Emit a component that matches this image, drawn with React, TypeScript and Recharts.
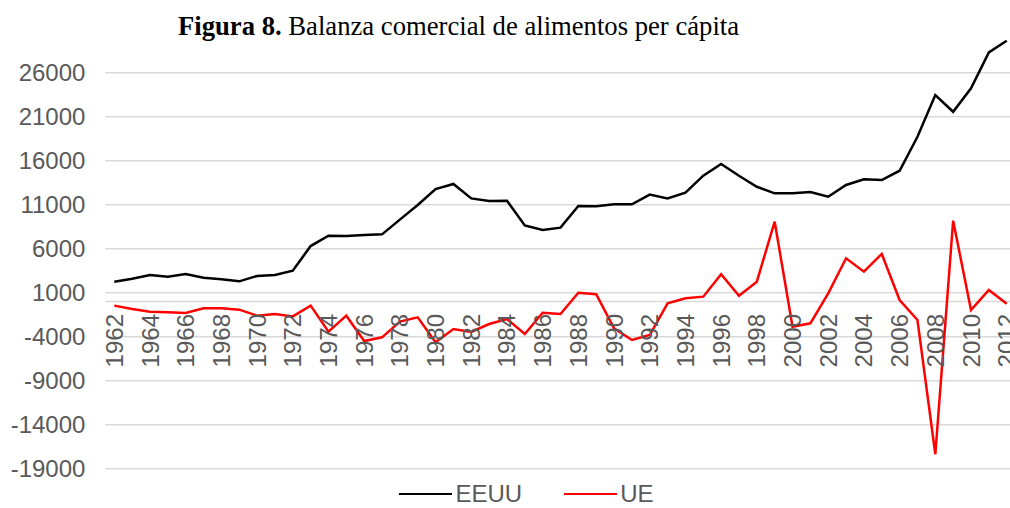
import React from 'react';
import { LineChart, Line, XAxis, YAxis, CartesianGrid, ReferenceLine, Legend } from 'recharts';

const YEARS = [
  '1962', '1963', '1964', '1965', '1966', '1967', '1968', '1969', '1970', '1971',
  '1972', '1973', '1974', '1975', '1976', '1977', '1978', '1979', '1980', '1981',
  '1982', '1983', '1984', '1985', '1986', '1987', '1988', '1989', '1990', '1991',
  '1992', '1993', '1994', '1995', '1996', '1997', '1998', '1999', '2000', '2001',
  '2002', '2003', '2004', '2005', '2006', '2007', '2008', '2009', '2010', '2011',
  '2012',
];

const EEUU = [
  2250, 2590, 3010, 2820, 3120, 2710, 2520, 2290, 2900, 3010,
  3500, 6300, 7480, 7440, 7550, 7630, 9300, 10960, 12780, 13360,
  11720, 11420, 11450, 8640, 8120, 8390, 10850, 10830, 11040, 11040,
  12150, 11700, 12360, 14300, 15620, 14290, 13040, 12290, 12290, 12440,
  11910, 13240, 13880, 13800, 14860, 18720, 23460, 21560, 24220, 28310,
  29630,
];

const UE = [
  -470, -850, -1160, -1230, -1310, -780, -780, -930, -1610, -1420,
  -1690, -470, -3430, -1610, -4490, -4070, -2290, -1800, -4640, -3120,
  -3460, -2560, -1990, -3690, -1270, -1420, 1000, 820, -3050, -4370,
  -3810, -210, 360, 550, 3090, 660, 2250, 9070, -2860, -2480,
  930, 4910, 3390, 5400, 170, -2100, -17360, 9180, -970, 1310,
  -250,
];

const Y_TICKS = [-19000, -14000, -9000, -4000, 1000, 6000, 11000, 16000, 21000, 26000];
const LABEL_YEARS = YEARS.filter((_, i) => i % 2 === 0);

const Y_MIN = -19000;
const Y_MAX = 31000;

const data = YEARS.map((year, i) => ({ year, EEUU: EEUU[i], UE: UE[i] }));

const W = 1010;
const H = 508;
const M_TOP = 28.7;
const X_AXIS_H = 1;
const M_BOTTOM = 39.3 - X_AXIS_H;
const PLOT_H = H - M_TOP - M_BOTTOM - X_AXIS_H;
const ZERO_FROM_BOTTOM = (PLOT_H * (0 - Y_MIN)) / (Y_MAX - Y_MIN);

const FONT = '"Liberation Sans", Arial, sans-serif';
const GRAY = '#595959';

function YearTick(props: any) {
  const { x, y, payload } = props;
  if (!payload || !LABEL_YEARS.includes(String(payload.value))) return <g />;
  const ty = y - ZERO_FROM_BOTTOM + 12.5;
  return (
    <text
      transform={`translate(${x},${ty}) rotate(-90)`}
      textAnchor="end"
      dy="0.355em"
      fill={GRAY}
      fontSize={24}
      fontFamily={FONT}
    >
      {payload.value}
    </text>
  );
}

function LegendContent(props: any) {
  const items = props.payload || [];
  return (
    <div
      style={{
        display: 'flex',
        justifyContent: 'center',
        alignItems: 'center',
        height: 18,
        width: W,
        paddingLeft: 43,
        boxSizing: 'border-box',
        fontFamily: FONT,
        fontSize: 24,
        lineHeight: '18px',
        color: GRAY,
      }}
    >
      {items.map((it: any, i: number) => (
        <div key={i} style={{ display: 'flex', alignItems: 'center', marginLeft: i === 0 ? 0 : 42, height: 18 }}>
          <div style={{ width: 53, height: 2.5, background: it.color, marginRight: 3 }} />
          <span style={{ lineHeight: '18px' }}>{it.value}</span>
        </div>
      ))}
    </div>
  );
}

export default function App() {
  return (
    <div style={{ position: 'absolute', left: 0, top: 0, width: W, height: H, background: '#fff' }}>
      <div
        style={{
          position: 'absolute',
          left: 178,
          top: 13.4,
          fontFamily: '"Liberation Serif", "Times New Roman", serif',
          fontSize: 26.67,
          lineHeight: 1,
          color: '#000',
          whiteSpace: 'nowrap',
          zIndex: 2,
        }}
      >
        <b>Figura 8.</b> Balanza comercial de alimentos per cápita
      </div>
      <LineChart width={W} height={H} data={data} margin={{ top: M_TOP, right: 0, bottom: M_BOTTOM, left: 0 }}>
        <CartesianGrid vertical={false} horizontalValues={Y_TICKS} stroke="#d9d9d9" strokeWidth={1.5} />
        <XAxis
          dataKey="year"
          height={X_AXIS_H}
          axisLine={false}
          tickLine={false}
          tickSize={0}
          tickMargin={0}
          interval={0}
          padding={{ left: 8.9, right: 3.3 }}
          tick={<YearTick />}
        />
        <YAxis
          width={105.4}
          domain={[Y_MIN, Y_MAX]}
          ticks={Y_TICKS}
          axisLine={false}
          tickLine={false}
          tickSize={0}
          tickMargin={20}
          allowDataOverflow
          tick={{ fill: GRAY, fontSize: 24, fontFamily: FONT }}
        />
        <ReferenceLine y={0} stroke="#d9d9d9" strokeWidth={1.5} />
        <Line type="linear" dataKey="EEUU" name="EEUU" stroke="#000000" strokeWidth={2.5} dot={false} isAnimationActive={false} />
        <Line type="linear" dataKey="UE" name="UE" stroke="#ff0000" strokeWidth={2.5} dot={false} isAnimationActive={false} />
        <Legend
          layout="horizontal"
          verticalAlign="middle"
          align="center"
          wrapperStyle={{ left: 0, top: 485, width: W }}
          content={<LegendContent />}
        />
      </LineChart>
    </div>
  );
}
